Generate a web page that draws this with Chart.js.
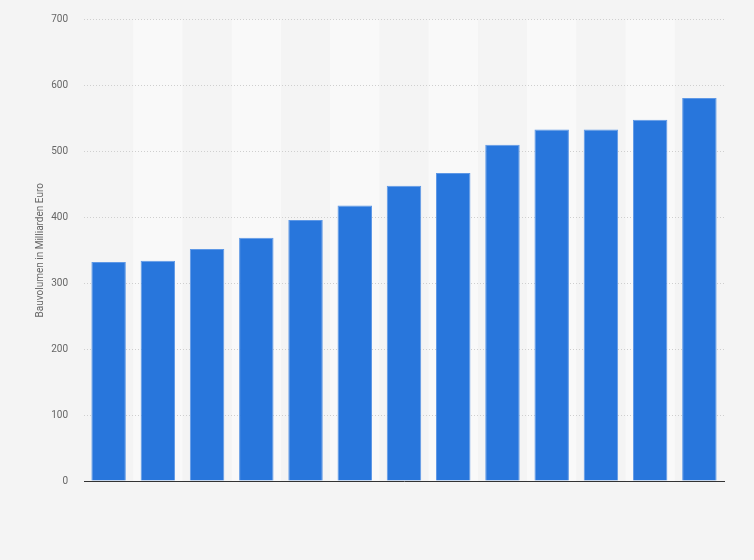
<!DOCTYPE html>
<html>
<head>
<meta charset="utf-8">
<script src="https://cdn.jsdelivr.net/npm/chart.js@4/dist/chart.umd.min.js"></script>
<style>
  html, body { margin: 0; padding: 0; background: #f4f4f4; }
  #wrap { width: 754px; height: 560px; }
</style>
</head>
<body>
<div id="wrap"><canvas id="c" width="754" height="560"></canvas></div>
<script>
const categories = ["1", "2", "3", "4", "5", "6", "7", "8", "9", "10", "11", "12", "13"];
const values = [332, 334, 352, 369, 396, 418, 448, 467, 510, 533, 533, 548, 581];
const yTicks = [0, 100, 200, 300, 400, 500, 600, 700];
const yTitle = "Bauvolumen in Milliarden Euro";

const bandPlugin = {
  id: 'bands',
  beforeDraw(chart) {
    const { ctx, chartArea, scales } = chart;
    ctx.save();
    ctx.fillStyle = '#f4f4f4';
    ctx.fillRect(0, 0, chart.width, chart.height);
    const x = scales.x;
    const n = categories.length;
    const w = (chartArea.right - chartArea.left) / n;
    ctx.fillStyle = '#f9f9f9';
    for (let i = 1; i < n; i += 2) {
      const cx = x.getPixelForValue(i);
      ctx.fillRect(cx - w / 2, chartArea.top, w, chartArea.bottom - chartArea.top);
    }
    ctx.restore();
  }
};

new Chart(document.getElementById('c'), {
  type: 'bar',
  data: {
    labels: categories,
    datasets: [{
      data: values,
      backgroundColor: '#2876dc',
      borderColor: '#5e98e6',
      borderWidth: 1,
      barPercentage: 0.7,
      categoryPercentage: 1.0
    }]
  },
  options: {
    responsive: false,
    animation: false,
    devicePixelRatio: 1,
    layout: { padding: { top: 19.5, right: 30, left: 0, bottom: 0 } },
    plugins: { legend: { display: false }, tooltip: { enabled: false } },
    scales: {
      x: {
        grid: { display: false, drawTicks: false },
        border: { display: true, color: '#333333', width: 1 },
        ticks: { display: false },
        afterFit(s) { s.height = 79; }
      },
      y: {
        min: 0,
        max: 700,
        afterBuildTicks(s) { s.ticks = yTicks.map(v => ({ value: v })); },
        grid: { color: '#cfcfcf', drawTicks: false, lineWidth: 1 },
        border: { display: false, dash: [1, 2] },
        ticks: {
          padding: 16,
          color: '#666666',
          font: { family: 'Roboto, Arial, sans-serif', size: 10 }
        },
        title: {
          display: true,
          text: yTitle,
          color: '#666666',
          font: { family: 'Roboto, Arial, sans-serif', size: 10 },
          padding: { top: 34, bottom: 0 }
        },
        afterFit(s) { s.width = 84; s.paddingTop = 0; s.paddingBottom = 0; }
      }
    }
  },
  plugins: [bandPlugin]
});
</script>
</body>
</html>
